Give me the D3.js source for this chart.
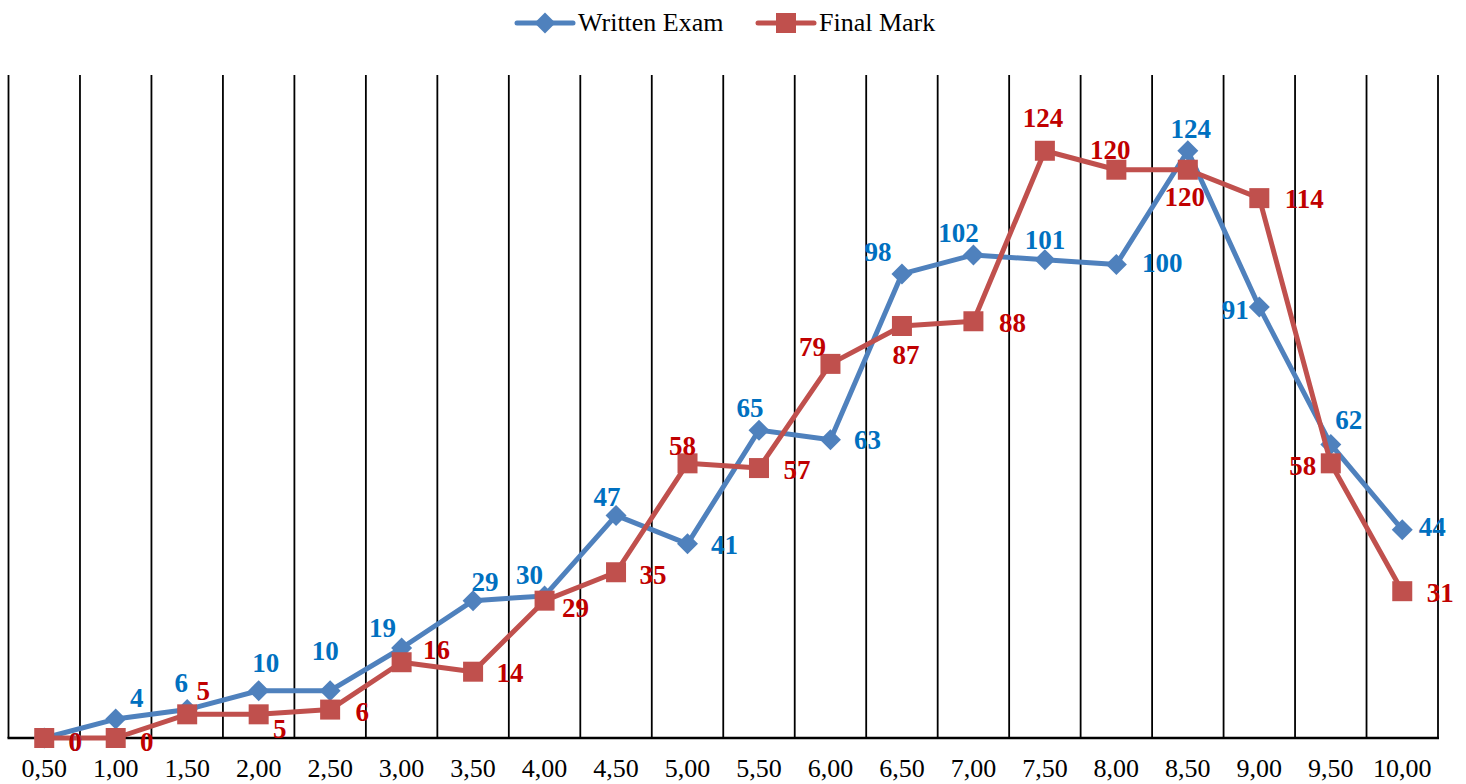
<!DOCTYPE html>
<html>
<head>
<meta charset="utf-8">
<script src="https://cdn.jsdelivr.net/npm/d3@7"></script>
<style>
  html, body { margin: 0; padding: 0; background: #fff; }
  svg { display: block; }
</style>
</head>
<body>
<svg id="chart" width="1466" height="784"></svg>
<script>
// ---- data ----
const categories = ["0,50","1,00","1,50","2,00","2,50","3,00","3,50","4,00","4,50","5,00",
                    "5,50","6,00","6,50","7,00","7,50","8,00","8,50","9,00","9,50","10,00"];
const writtenExam = [0, 4, 6, 10, 10, 19, 29, 30, 47, 41, 65, 63, 98, 102, 101, 100, 124, 91, 62, 44];
const finalMark   = [0, 0, 5, 5, 6, 16, 14, 29, 35, 58, 57, 79, 87, 88, 124, 120, 120, 114, 58, 31];
const seriesNames = ["Written Exam", "Final Mark"];

// label placement offsets (label centre relative to point)
const writtenLabelDx = [31, 21, -6, 7, -5, -19, 12, -15, -9, 37, -9, 37, -24, -15, 0, 46, 3, -24, 18, 30];
const writtenLabelDy = [4, -21, -27, -28, -40, -20, -19, -21, -19, 1, -22, 0, -22, -22, -20, -2, -22, 3, -25, -3];
const finalLabelDx   = [31, 31, 16, 21, 32, 35, 37, 31, 37, -5, 38, -18, 4, 39, -2, -6, -3, 45, -28, 38];
const finalLabelDy   = [4, 4, -24, 14, 2, -12, 1, 7, 3, -18, 2, -17, 29, 2, -33, -20, 27, 1, 2, 2];

// ---- layout ----
const svg = d3.select("#chart");
const plot = { left: 8.5, right: 1438, top: 75, bottom: 738 };
const x = d3.scaleBand().domain(categories).range([plot.left, plot.right]).paddingInner(0).paddingOuter(0);
const y = d3.scaleLinear().domain([0, 140]).range([plot.bottom, plot.top]);

const serif = "'Liberation Serif', 'Times New Roman', serif";
const colors = {
  written: { line: "#4F81BD", label: "#0070C0" },
  final:   { line: "#C0504D", label: "#C00000" }
};

// vertical gridlines at band boundaries
const bounds = categories.map(c => x(c)).concat([x(categories[categories.length - 1]) + x.bandwidth()]);
svg.append("g").selectAll("line").data(bounds).join("line")
  .attr("x1", d => d).attr("x2", d => d)
  .attr("y1", plot.top).attr("y2", plot.bottom)
  .attr("stroke", "#000").attr("stroke-width", 1.8);

// x axis
const xAxis = svg.append("g")
  .attr("transform", `translate(0,${plot.bottom})`)
  .call(d3.axisBottom(x).tickSize(0).tickPadding(0));
xAxis.select(".domain").remove();
xAxis.selectAll("text")
  .attr("y", 39).attr("dy", 0)
  .style("font-family", serif).style("font-size", "26px").attr("fill", "#000");
svg.append("line")
  .attr("x1", plot.left - 1).attr("x2", plot.right + 1)
  .attr("y1", plot.bottom).attr("y2", plot.bottom)
  .attr("stroke", "#000").attr("stroke-width", 2.6);

const cx = (i) => x(categories[i]) + x.bandwidth() / 2;
const line = d3.line().x((d, i) => cx(i)).y(d => y(d));

function drawSeries(values, col, shape) {
  const g = svg.append("g");
  g.append("path").datum(values)
    .attr("d", line).attr("fill", "none")
    .attr("stroke", col.line).attr("stroke-width", 5)
    .attr("stroke-linejoin", "round").attr("stroke-linecap", "round");
  if (shape === "diamond") {
    g.selectAll("path.m").data(values).join("path").attr("class", "m")
      .attr("d", (d, i) => {
        const px = cx(i), py = y(d), r = 10.5;
        return `M${px},${py - r}L${px + r},${py}L${px},${py + r}L${px - r},${py}Z`;
      })
      .attr("fill", col.line);
  } else {
    g.selectAll("rect.m").data(values).join("rect").attr("class", "m")
      .attr("x", (d, i) => cx(i) - 10).attr("y", d => y(d) - 10)
      .attr("width", 20).attr("height", 20)
      .attr("fill", col.line);
  }
}

function drawLabels(values, col, dxs, dys) {
  svg.append("g").selectAll("text").data(values).join("text")
    .attr("x", (d, i) => cx(i) + dxs[i])
    .attr("y", (d, i) => y(d) + dys[i])
    .attr("dy", "0.34em")
    .attr("text-anchor", "middle")
    .style("font-family", serif).style("font-size", "27px").style("font-weight", "bold")
    .attr("fill", col.label)
    .text(d => d);
}

drawSeries(writtenExam, colors.written, "diamond");
drawSeries(finalMark, colors.final, "square");
drawLabels(writtenExam, colors.written, writtenLabelDx, writtenLabelDy);
drawLabels(finalMark, colors.final, finalLabelDx, finalLabelDy);

// legend
const legend = svg.append("g");
const legItems = [
  { name: seriesNames[0], col: colors.written, shape: "diamond", x0: 517 },
  { name: seriesNames[1], col: colors.final, shape: "square", x0: 758 }
];
const ly = 23;
legItems.forEach(it => {
  legend.append("line").attr("x1", it.x0).attr("x2", it.x0 + 56)
    .attr("y1", ly).attr("y2", ly)
    .attr("stroke", it.col.line).attr("stroke-width", 5).attr("stroke-linecap", "round");
  const mx = it.x0 + 28;
  if (it.shape === "diamond") {
    const r = 10.5;
    legend.append("path").attr("d", `M${mx},${ly - r}L${mx + r},${ly}L${mx},${ly + r}L${mx - r},${ly}Z`)
      .attr("fill", it.col.line);
  } else {
    legend.append("rect").attr("x", mx - 10).attr("y", ly - 10).attr("width", 20).attr("height", 20)
      .attr("fill", it.col.line);
  }
  legend.append("text").attr("x", it.x0 + 61).attr("y", 31)
    .style("font-family", serif).style("font-size", "26px").attr("fill", "#000")
    .text(it.name);
});
</script>
</body>
</html>
